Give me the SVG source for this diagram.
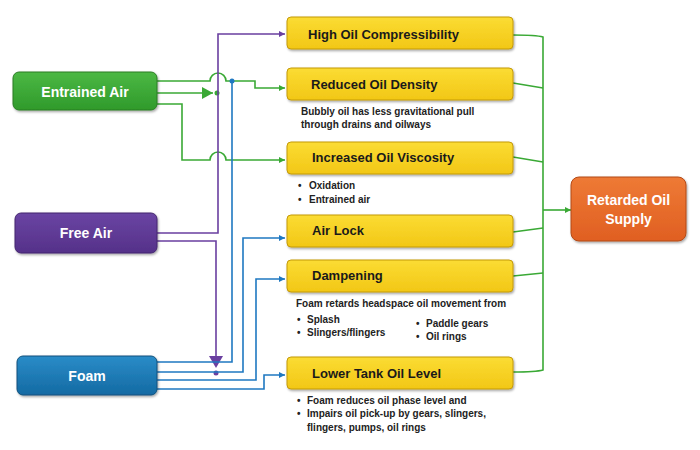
<svg xmlns="http://www.w3.org/2000/svg" width="700" height="450" viewBox="0 0 700 450">
<defs>
<linearGradient id="gG" x1="0" y1="0" x2="0" y2="1"><stop offset="0" stop-color="#4cb844"/><stop offset="1" stop-color="#2f9a2b"/></linearGradient>
<linearGradient id="gP" x1="0" y1="0" x2="0" y2="1"><stop offset="0" stop-color="#6a45a3"/><stop offset="1" stop-color="#553189"/></linearGradient>
<linearGradient id="gB" x1="0" y1="0" x2="0" y2="1"><stop offset="0" stop-color="#2a8cc8"/><stop offset="1" stop-color="#146aa3"/></linearGradient>
<linearGradient id="gY" x1="0" y1="0" x2="0" y2="1"><stop offset="0" stop-color="#fbdc33"/><stop offset="1" stop-color="#f2c716"/></linearGradient>
<linearGradient id="gO" x1="0" y1="0" x2="0" y2="1"><stop offset="0" stop-color="#ee7a35"/><stop offset="1" stop-color="#e05f22"/></linearGradient>
<filter id="sh" x="-10%" y="-20%" width="125%" height="150%"><feDropShadow dx="1" dy="1.5" stdDeviation="1" flood-color="#000" flood-opacity="0.35"/></filter>
<marker id="aG" viewBox="0 0 10 10" refX="10" refY="5" markerWidth="6" markerHeight="6" markerUnits="userSpaceOnUse" orient="auto"><path d="M0,0L10,5L0,10z" fill="#3aa935"/></marker>
<marker id="aP" viewBox="0 0 10 10" refX="10" refY="5" markerWidth="6" markerHeight="6" markerUnits="userSpaceOnUse" orient="auto"><path d="M0,0L10,5L0,10z" fill="#6a3fa0"/></marker>
<marker id="aB" viewBox="0 0 10 10" refX="10" refY="5" markerWidth="6" markerHeight="6" markerUnits="userSpaceOnUse" orient="auto"><path d="M0,0L10,5L0,10z" fill="#1f78c1"/></marker>
</defs>
<style>
.src text{font-family:"Liberation Sans",Arial,sans-serif;font-weight:bold;font-size:14px;fill:#fff;text-anchor:middle}
.ybox rect{fill:url(#gY);stroke:#c49a0c;stroke-width:1}
.ybox text.t{font-family:"Liberation Sans",Arial,sans-serif;font-weight:bold;font-size:13px;fill:#1a1a1a}
.d{font-family:"Liberation Sans",Arial,sans-serif;font-weight:bold;font-size:10px;fill:#222}
.g{fill:none;stroke:#3aa935;stroke-width:1.6}
.p{fill:none;stroke:#6a3fa0;stroke-width:1.6}
.b{fill:none;stroke:#1f78c1;stroke-width:1.6}
</style>
<rect width="700" height="450" fill="#fff"/>
<g id="connectors">
<path class="g" d="M157,81H210A8,8 0 0 1 226,81H255V88H285" marker-end="url(#aG)"/>
<path class="g" d="M157,93H213"/>
<path d="M202,87L213,93L202,99z" fill="#3aa935"/>
<circle cx="217" cy="93" r="2.5" fill="#3aa935"/>
<path class="g" d="M157,104H182V160H210A8,8 0 0 1 226,160H285" marker-end="url(#aG)"/>
<path class="p" d="M157,233H218V34H285" marker-end="url(#aP)"/>
<path class="p" d="M157,241H216V360"/>
<path d="M209,356L223,356L216,368z" fill="#6a3fa0"/>
<circle cx="216" cy="373" r="2.5" fill="#6a3fa0"/>
<path class="b" d="M157,362H232V81"/>
<circle cx="232" cy="81" r="2.5" fill="#1f78c1"/>
<path class="b" d="M157,372H243V238H285" marker-end="url(#aB)"/>
<path class="b" d="M157,380H256V279H285" marker-end="url(#aB)"/>
<path class="b" d="M157,389H264V375H285" marker-end="url(#aB)"/>
<path class="g" d="M513,35Q536,35 543,37V370Q536,372 513,372"/>
<path class="g" d="M513,83L543,88"/>
<path class="g" d="M513,157L543,162"/>
<path class="g" d="M513,232L543,228"/>
<path class="g" d="M513,276L543,273"/>
<path class="g" d="M543,210H571" marker-end="url(#aG)"/>
</g>
<g id="entrained-air" class="src"><rect x="13" y="72" width="144" height="38" rx="6" fill="url(#gG)" stroke="#2a7d24" filter="url(#sh)"/><text x="85" y="97">Entrained Air</text></g>
<g id="free-air" class="src"><rect x="15" y="213" width="142" height="40" rx="6" fill="url(#gP)" stroke="#44276f" filter="url(#sh)"/><text x="86" y="238">Free Air</text></g>
<g id="foam" class="src"><rect x="17" y="356" width="140" height="39" rx="6" fill="url(#gB)" stroke="#10507c" filter="url(#sh)"/><text x="87" y="381">Foam</text></g>
<g id="high-oil-compressibility" class="ybox"><rect x="287" y="17" width="226" height="32" rx="4" filter="url(#sh)"/><text class="t" x="308" y="39">High Oil Compressibility</text></g>
<g id="reduced-oil-density" class="ybox"><rect x="287" y="68" width="226" height="32" rx="4" filter="url(#sh)"/><text class="t" x="311" y="89">Reduced Oil Density</text>
<text class="d" x="301" y="114.5">Bubbly oil has less gravitational pull</text><text class="d" x="301" y="128">through drains and oilways</text></g>
<g id="increased-oil-viscosity" class="ybox"><rect x="287" y="142" width="226" height="32" rx="4" filter="url(#sh)"/><text class="t" x="312" y="162">Increased Oil Viscosity</text>
<text class="d" x="298" y="189">•</text><text class="d" x="309" y="189">Oxidation</text><text class="d" x="298" y="203">•</text><text class="d" x="309" y="203">Entrained air</text></g>
<g id="air-lock" class="ybox"><rect x="287" y="215" width="226" height="32" rx="4" filter="url(#sh)"/><text class="t" x="312" y="235">Air Lock</text></g>
<g id="dampening" class="ybox"><rect x="287" y="260" width="226" height="32" rx="4" filter="url(#sh)"/><text class="t" x="312" y="280">Dampening</text>
<text class="d" x="296" y="307">Foam retards headspace oil movement from</text>
<text class="d" x="297" y="323">•</text><text class="d" x="307" y="323">Splash</text><text class="d" x="297" y="336">•</text><text class="d" x="307" y="336">Slingers/flingers</text>
<text class="d" x="416" y="327">•</text><text class="d" x="426" y="327">Paddle gears</text><text class="d" x="416" y="340">•</text><text class="d" x="426" y="340">Oil rings</text></g>
<g id="lower-tank-oil-level" class="ybox"><rect x="287" y="357" width="226" height="32" rx="4" filter="url(#sh)"/><text class="t" x="312" y="378">Lower Tank Oil Level</text>
<text class="d" x="297" y="404">•</text><text class="d" x="307" y="404">Foam reduces oil phase level and</text>
<text class="d" x="297" y="417">•</text><text class="d" x="307" y="417">Impairs oil pick-up by gears, slingers,</text>
<text class="d" x="307" y="431">flingers, pumps, oil rings</text></g>
<g id="retarded-oil-supply" class="src"><rect x="571" y="177" width="115" height="64" rx="8" fill="url(#gO)" stroke="#b34a18" filter="url(#sh)"/><text x="628.5" y="205">Retarded Oil</text><text x="628.5" y="224">Supply</text></g>
</svg>
